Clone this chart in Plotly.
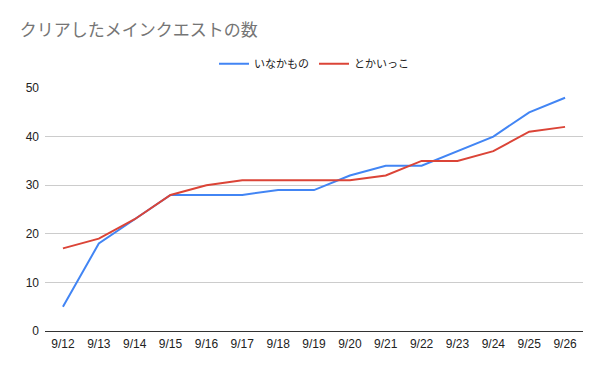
import plotly.graph_objects as go

dates = ["9/12", "9/13", "9/14", "9/15", "9/16", "9/17", "9/18", "9/19",
         "9/20", "9/21", "9/22", "9/23", "9/24", "9/25", "9/26"]
inakamono = [5, 18, 23, 28, 28, 28, 29, 29, 32, 34, 34, 37, 40, 45, 48]
tokaikko = [17, 19, 23, 28, 30, 31, 31, 31, 31, 32, 35, 35, 37, 41, 42]

font_family = "Liberation Sans, Arial, Noto Sans CJK JP, sans-serif"

fig = go.Figure()
fig.add_trace(go.Scatter(x=dates, y=inakamono, mode="lines", name="いなかもの",
                         line=dict(color="#4285F4", width=2)))
fig.add_trace(go.Scatter(x=dates, y=tokaikko, mode="lines", name="とかいっこ",
                         line=dict(color="#DB4437", width=2)))

# page body has an 8px margin, so the figure is sized/offset accordingly
fig.update_layout(
    width=592, height=363,
    margin=dict(l=37, r=17, t=80, b=40),
    paper_bgcolor="white", plot_bgcolor="white",
    font=dict(family=font_family, size=12, color="#222222"),
    title=dict(text="クリアしたメインクエストの数", x=0.02, xanchor="left",
               y=0.94, yanchor="middle",
               font=dict(size=17, color="#757575", family="Noto Sans CJK JP, sans-serif")),
    legend=dict(orientation="h", x=0.5, xanchor="center", y=1.10, yanchor="middle",
                font=dict(size=11, color="#222222", family="Noto Sans CJK JP, sans-serif"),
                itemwidth=30),
    showlegend=True,
)
fig.update_xaxes(type="category", range=[-0.5, 14.5], showgrid=False,
                 showline=False, ticks="", tickfont=dict(size=12, color="#222222"),
                 ticklabelstandoff=4)
fig.update_yaxes(range=[0, 50], dtick=10, showgrid=True, gridcolor="#cccccc",
                 gridwidth=1, zeroline=True, zerolinecolor="#333333", zerolinewidth=1,
                 ticks="", tickfont=dict(size=12, color="#222222"),
                 ticklabelstandoff=5)

fig.write_html("out.html")
